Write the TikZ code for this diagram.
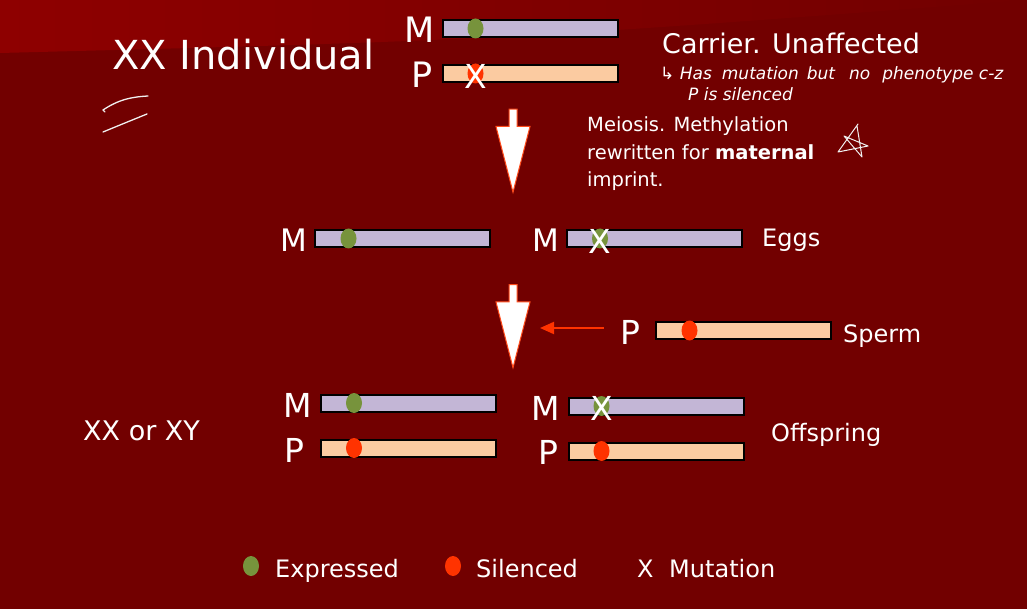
\documentclass[tikz,border=0pt]{standalone}
\usepackage{fontspec}
\setmainfont{DejaVu Sans}
\usepackage{xcolor}
\usepackage{tikz}
\usetikzlibrary{shapes.geometric, shapes.arrows, arrows.meta, positioning, calc}

\definecolor{slidebg}{HTML}{720000}
\definecolor{slidelight}{HTML}{8E0000}
\definecolor{matbar}{HTML}{C3B6D6}
\definecolor{patbar}{HTML}{FBCBA1}
\definecolor{expgreen}{HTML}{77933C}
\definecolor{silred}{HTML}{FF3300}
\definecolor{flowred}{HTML}{FF4A1A}

\newcommand{\pxfont}[1]{\fontsize{#1}{#1}\selectfont}

\begin{document}
\begin{tikzpicture}[
        x=1pt, y=-1pt,
        chrom/.style={rectangle, draw=black, line width=2pt, minimum width=175pt, minimum height=17pt, inner sep=0pt},
        matchrom/.style={chrom, fill=matbar},
        patchrom/.style={chrom, fill=patbar},
        dotnode/.style={ellipse, inner sep=0pt, minimum width=16pt, minimum height=20pt},
        expdot/.style={dotnode, fill=expgreen},
        sildot/.style={dotnode, fill=silred},
        mutx/.style={text=white, inner sep=0pt, font=\pxfont{33}},
        parent/.style={text=white, inner sep=0pt, anchor=base east, font=\pxfont{33}},
        sidetext/.style={text=white, inner sep=0pt, anchor=base west, font=\pxfont{24}},
        flowarrow/.style={single arrow, draw=flowred, fill=white, line width=1pt, rotate=-90, minimum height=83pt, minimum width=33pt, inner sep=3.5pt, single arrow head extend=13pt, single arrow tip angle=29},
        spermarrow/.style={-{Triangle[length=14pt, width=12pt]}, draw=silred, line width=2pt},
        ink/.style={draw=white!88!gray, line width=1.3pt, line cap=round, line join=round}
    ]
        % Slide background
        \useasboundingbox (0,0) rectangle (1027,609);
        \fill[slidebg] (0,0) rectangle (1027,609);
        \shade[left color=slidelight, right color=slidebg] (0,0) -- (1027,0) .. controls (500,40) .. (0,53) -- cycle;

        % Parent (XX individual)
        \node[sidetext, font=\pxfont{40}] (title) at (112,70) {XX Individual};
        \node[matchrom] (topM) at (530,28.5) {};
        \node[patchrom] (topP) at (530,73.5) {};
        \node[expdot] (topMdot) at ($(topM.west)+(34,0)$) {};
        \node[sildot] (topPdot) at ($(topP.west)+(34,0)$) {};
        \node[mutx] at ($(topPdot)+(0,2.5)$) {X};
        \node[parent, font=\pxfont{35}] (topMlbl) at ($(topM.south west)+(-7,5)$) {M};
        \node[parent, font=\pxfont{35}] (topPlbl) at ($(topP.south west)+(-9,5)$) {P};
        \node[sidetext, font=\pxfont{27}] (carrier) at (662,54) {Carrier. Unaffected};
        \node[sidetext, font=\pxfont{17}\itshape] (note1) at (660,80) {↳ Has\hspace{10pt}mutation\hspace{8pt}but\hspace{14pt}no\hspace{12pt}phenotype c-z};
        \node[sidetext, font=\pxfont{17}\itshape] (note2) at (688,101) {P is silenced};

        % Meiosis
        \node[flowarrow] (meiosis) at (513,143) {};
        \node[sidetext, font=\pxfont{19.5}] (meio1) at (587,132) {Meiosis. Methylation};
        \node[sidetext, font=\pxfont{19.5}] (meio2) at (587,159.5) {rewritten for \textbf{maternal}};
        \node[sidetext, font=\pxfont{19.5}] (meio3) at (587,187) {imprint.};

        % Eggs
        \node[matchrom] (eggA) at (402.5,238.5) {};
        \node[matchrom] (eggB) at (654,238.5) {};
        \node[expdot] (eggAdot) at ($(eggA.west)+(34.5,0)$) {};
        \node[expdot] (eggBdot) at ($(eggB.west)+(34.5,0)$) {};
        \node[mutx] at ($(eggBdot)+(0,2.5)$) {X};
        \node[parent, font=\pxfont{31}] (eggAlbl) at ($(eggA.south west)+(-7,4)$) {M};
        \node[parent, font=\pxfont{31}] (eggBlbl) at ($(eggB.south west)+(-6.5,4)$) {M};
        \node[sidetext] (eggs) at (762,247) {Eggs};

        % Fertilisation
        \node[flowarrow] (fertil) at (513,318.5) {};
        \node[patchrom] (sperm) at (743,330.5) {};
        \node[sildot] (spermdot) at ($(sperm.west)+(35,0)$) {};
        \node[parent] (spermlbl) at ($(sperm.south west)+(-13.5,4)$) {P};
        \node[sidetext] (spermtxt) at (843,342) {Sperm};
        \coordinate (spermtip) at (540,328);
        \draw[spermarrow] ($(spermlbl.west |- spermtip)+(-17,0)$) -- (spermtip);

        % Offspring
        \node[matchrom] (offAM) at (408.5,403) {};
        \node[patchrom] (offAP) at (408.5,448) {};
        \node[matchrom] (offBM) at (656,406) {};
        \node[patchrom] (offBP) at (656,451) {};
        \node[expdot] (offAMdot) at ($(offAM.west)+(34,0)$) {};
        \node[sildot] (offAPdot) at ($(offAP.west)+(34,0)$) {};
        \node[expdot] (offBMdot) at ($(offBM.west)+(34,0)$) {};
        \node[sildot] (offBPdot) at ($(offBP.west)+(34,0)$) {};
        \node[mutx] at ($(offBMdot)+(0,2.5)$) {X};
        \node[parent] (offAMlbl) at ($(offAM.south west)+(-8,5)$) {M};
        \node[parent] (offAPlbl) at ($(offAP.south west)+(-15,5)$) {P};
        \node[parent] (offBMlbl) at ($(offBM.south west)+(-7.5,5)$) {M};
        \node[parent] (offBPlbl) at ($(offBP.south west)+(-8.5,4)$) {P};
        \node[sidetext, font=\pxfont{27}] (xxxy) at (83,440) {XX or XY};
        \node[sidetext] (offspring) at (771,441) {Offspring};

        % Legend
        \node[expdot] (legexp) at (251,566) {};
        \node[sidetext] (legexptxt) at (275,577) {Expressed};
        \node[sildot] (legsil) at (453,566) {};
        \node[sidetext] (legsiltxt) at (476,577) {Silenced};
        \node[sidetext] (legx) at (637,577) {X};
        \node[sidetext] (legxtxt) at (669,577) {Mutation};

        % Pen marks
        \draw[ink] (105,112) -- (103,110) .. controls (118,100) and (130,97) .. (148,96);
        \draw[ink] (103,132) .. controls (120,125) .. (147,114);
        \draw[ink, line width=1pt] (858,124) -- (838,152) -- (868,146) -- (844,136) -- (862,157) -- (857,126);
    \end{tikzpicture}
\end{document}
